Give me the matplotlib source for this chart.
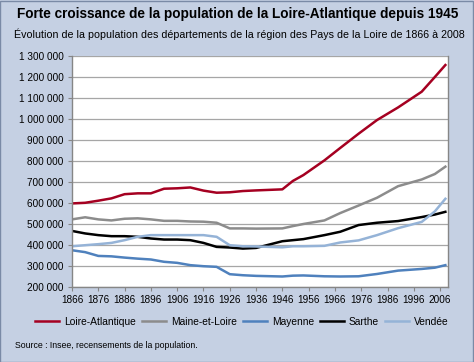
import matplotlib
matplotlib.use("Agg")
import matplotlib.pyplot as plt
from matplotlib.ticker import FuncFormatter, MultipleLocator
from matplotlib.patches import Rectangle

plt.rcParams['font.family'] = ['Liberation Sans', 'DejaVu Sans']

# ==================== données ====================
annees = [1866, 1871, 1876, 1881, 1886, 1891, 1896, 1901, 1906, 1911, 1916,
          1921, 1926, 1931, 1936, 1946, 1950, 1954, 1962, 1968, 1975, 1982,
          1990, 1999, 2004, 2008]

loire_atlantique = [598, 601, 611, 622, 642, 646, 646, 668, 670, 674, 659,
                    649, 651, 657, 660, 665, 705, 733, 803, 862, 930, 995,
                    1055, 1130, 1200, 1257]
maine_et_loire = [522, 532, 522, 517, 525, 527, 522, 515, 515, 512, 511,
                  506, 479, 479, 478, 479, 490, 500, 517, 552, 588, 625,
                  680, 712, 738, 773]
mayenne = [375, 366, 348, 346, 340, 335, 331, 320, 315, 304, 299,
           296, 261, 256, 253, 250, 254, 255, 251, 250, 251, 262,
           278, 286, 292, 304]
sarthe = [467, 455, 447, 442, 442, 439, 431, 426, 426, 423, 410,
          391, 388, 383, 386, 418, 423, 428, 447, 463, 495, 506,
          514, 533, 545, 558]
vendee = [394, 399, 404, 410, 423, 439, 447, 447, 447, 447, 447,
          439, 399, 394, 393, 389, 394, 394, 396, 412, 422, 447,
          480, 510, 560, 620]

series = [
    ("Loire-Atlantique", loire_atlantique, "#A50021"),
    ("Maine-et-Loire", maine_et_loire, "#8C8C8C"),
    ("Mayenne", mayenne, "#4F81BD"),
    ("Sarthe", sarthe, "#000000"),
    ("Vendée", vendee, "#95B3D7"),
]

fond = "#C5D0E3"

fig = plt.figure(figsize=(4.74, 3.62), dpi=100, facecolor=fond)
ax = fig.add_axes([72 / 474, 1 - 287 / 362, 376 / 474, 231 / 362])
ax.set_facecolor("white")

for nom, valeurs, couleur in series:
    ax.plot(annees, [v * 1000 for v in valeurs], color=couleur, lw=1.8,
            label=nom, solid_joinstyle="round")

ax.set_xlim(1866, 2009)
ax.set_ylim(200000, 1300000)
ax.yaxis.set_major_locator(MultipleLocator(100000))
ax.set_xticks(range(1866, 2007, 10))
ax.yaxis.set_major_formatter(FuncFormatter(lambda v, p: f"{int(v):,}".replace(",", " ")))
ax.grid(axis="y", color="#A6A6A6", lw=0.9)
ax.set_axisbelow(True)

for s in ax.spines.values():
    s.set_color("#868686")
    s.set_linewidth(1.0)
ax.spines["top"].set_visible(False)

ax.tick_params(axis="both", labelsize=7.2, colors="#868686", labelcolor="black",
               length=3, width=0.8, direction="out", pad=3)

# titres
fig.text(17 / 474, 1 - 14 / 362, "Forte croissance de la population de la Loire-Atlantique depuis 1945",
         fontsize=9.8, fontweight="bold", va="center", ha="left")
fig.text(14 / 474, 1 - 34 / 362,
         "Évolution de la population des départements de la région des Pays de la Loire de 1866 à 2008",
         fontsize=7.7, va="center", ha="left")

# légende
fig.legend(loc="center", bbox_to_anchor=(242 / 474, 1 - 322 / 362), ncol=5, frameon=False,
           fontsize=7.4, handlelength=2.3, columnspacing=0.6, handletextpad=0.5)

fig.text(15 / 474, 1 - 346 / 362, "Source : Insee, recensements de la population.",
         fontsize=6.3, va="center", ha="left")

# cadre autour de la figure
fig.patches.append(Rectangle((0.001, 0.001), 0.997, 0.997, transform=fig.transFigure,
                             fill=False, edgecolor="#7A8AA6", lw=1.0))

fig.savefig("out.png", dpi=100, facecolor=fond)
